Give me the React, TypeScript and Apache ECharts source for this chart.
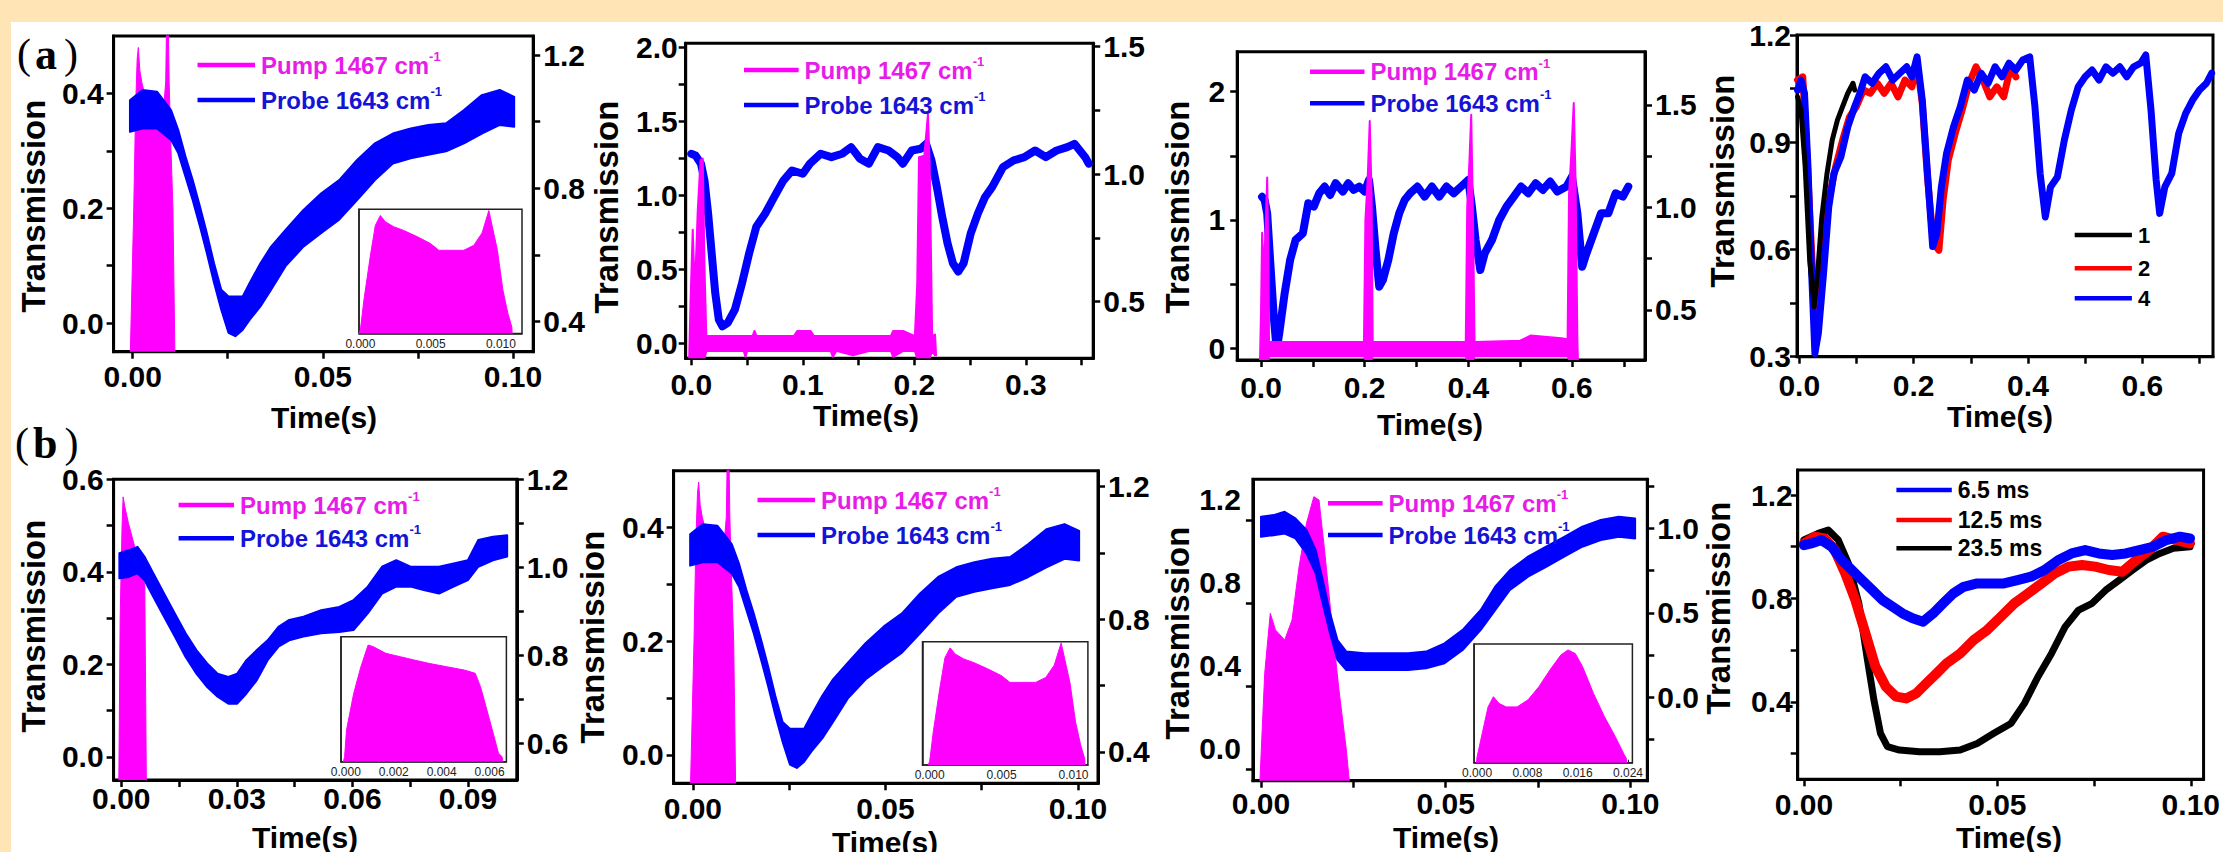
import React, { useEffect, useRef } from "react";
import * as echarts from "echarts";

const FONT = '"Liberation Sans", Arial, Helvetica, sans-serif';
const SERIF = '"Liberation Serif", "Times New Roman", serif';
const PINK = "#FF00FF";
const PINK_TEXT = "#E81CE8";
const BLUE = "#0000FF";
const BLUE_TEXT = "#1414D6";
const RED = "#FF0000";
const BLACK = "#000000";

// ---------------- DATA ----------------
// (a) panel 1 / (b) panel 2 : 0.1 s window, 10 ms pump
const p1PumpT = [-0.0006, 0.0003, 0.0008, 0.0012, 0.0015, 0.0019, 0.0024, 0.0031, 0.004, 0.005, 0.0056, 0.0073, 0.0081, 0.0087, 0.009, 0.0093, 0.0096, 0.0101, 0.0106, 0.0111];
const p1PumpV = [-0.05, 0.2, 0.38, 0.46, 0.48, 0.44, 0.42, 0.4, 0.38, 0.36, 0.35, 0.35, 0.37, 0.42, 0.56, 0.56, 0.42, 0.3, 0.2, -0.05];
const p1ProbeT = [-0.0007, 0.0026, 0.0064, 0.0101, 0.012, 0.0139, 0.0158, 0.0177, 0.0195, 0.0214, 0.0233, 0.0252, 0.027, 0.0289, 0.0308, 0.0336, 0.0364, 0.0402, 0.0449, 0.0496, 0.0543, 0.059, 0.0637, 0.0684, 0.0731, 0.0777, 0.0824, 0.0871, 0.0918, 0.0965, 0.1003];
const p1ProbeHi = [0.388, 0.406, 0.403, 0.371, 0.336, 0.29, 0.249, 0.203, 0.157, 0.104, 0.058, 0.046, 0.046, 0.046, 0.07, 0.104, 0.133, 0.162, 0.197, 0.226, 0.249, 0.284, 0.313, 0.33, 0.339, 0.345, 0.348, 0.371, 0.397, 0.406, 0.394];
const p1ProbeLo = [0.333, 0.339, 0.339, 0.319, 0.296, 0.255, 0.214, 0.168, 0.122, 0.07, 0.023, -0.017, -0.023, -0.012, 0.006, 0.029, 0.058, 0.099, 0.133, 0.157, 0.18, 0.214, 0.249, 0.278, 0.287, 0.293, 0.299, 0.313, 0.33, 0.345, 0.342];
const p1InsetT = [-0.0001, 0.0, 0.00025, 0.0007, 0.00106, 0.00142, 0.00177, 0.00237, 0.00308, 0.00403, 0.00498, 0.00558, 0.00736, 0.00807, 0.00866, 0.00914, 0.00975, 0.01014, 0.0105, 0.01078, 0.0108];
const p1InsetV = [0, 0.03, 0.27, 0.62, 0.87, 0.95, 0.9, 0.86, 0.83, 0.78, 0.725, 0.67, 0.67, 0.71, 0.81, 0.99, 0.67, 0.35, 0.16, 0.05, 0];

// (a) panel 2 : two pulses
const a2ProbeT = [0, 0.0038, 0.0087, 0.0119, 0.0151, 0.0183, 0.0215, 0.0247, 0.0279, 0.0327, 0.0391, 0.0455, 0.0519, 0.0583, 0.0663, 0.0744, 0.0824, 0.0904, 0.1, 0.1064, 0.116, 0.1256, 0.1353, 0.1433, 0.1513, 0.1593, 0.1673, 0.1769, 0.1849, 0.1897, 0.1977, 0.2058, 0.2106, 0.2154, 0.2202, 0.225, 0.2298, 0.2346, 0.2394, 0.2442, 0.2506, 0.257, 0.2635, 0.2699, 0.2795, 0.2891, 0.2987, 0.3083, 0.3179, 0.3276, 0.3372, 0.3436, 0.3532, 0.3564];
const a2ProbeV = [1.283, 1.272, 1.216, 1.1, 0.879, 0.61, 0.341, 0.161, 0.117, 0.139, 0.229, 0.408, 0.61, 0.79, 0.879, 0.991, 1.1, 1.17, 1.148, 1.216, 1.283, 1.26, 1.283, 1.328, 1.249, 1.216, 1.328, 1.305, 1.26, 1.216, 1.305, 1.317, 1.35, 1.238, 1.059, 0.857, 0.677, 0.543, 0.487, 0.543, 0.745, 0.879, 0.991, 1.059, 1.193, 1.238, 1.26, 1.305, 1.26, 1.305, 1.328, 1.35, 1.26, 1.216];
const a2PumpT = [-0.0019, -0.0006, 0.0013, 0.0032, 0.0058, 0.0083, 0.0103, 0.0119, 0.0135, 0.03, 0.047, 0.0487, 0.05, 0.055, 0.0567, 0.0585, 0.07, 0.092, 0.095, 0.107, 0.11, 0.125, 0.127, 0.13, 0.145, 0.16, 0.179, 0.181, 0.19, 0.2005, 0.2026, 0.2042, 0.209, 0.2122, 0.2138, 0.216, 0.2186, 0.2195];
const a2PumpLo = [-0.1, -0.1, -0.1, -0.1, -0.1, -0.1, -0.1, -0.1, -0.05, -0.05, -0.05, -0.09, -0.05, -0.05, -0.05, -0.05, -0.05, -0.05, -0.05, -0.05, -0.05, -0.05, -0.09, -0.05, -0.08, -0.05, -0.05, -0.09, -0.05, -0.05, -0.1, -0.1, -0.1, -0.1, -0.1, -0.05, -0.08, -0.08];
const a2PumpHi = [-0.1, 0.3, 0.77, 0.35, 0.9, 1.24, 1.25, 0.5, 0.05, 0.05, 0.05, 0.05, 0.05, 0.05, 0.085, 0.05, 0.05, 0.05, 0.085, 0.085, 0.05, 0.05, 0.05, 0.05, 0.05, 0.05, 0.05, 0.085, 0.085, 0.05, 0.4, 1.26, 1.27, 1.55, 1.2, 0.05, 0.06, -0.08];

// (a) panel 3 : four pulses
const a3ProbeT = [0.0021, 0.007, 0.0119, 0.0175, 0.0246, 0.0302, 0.0351, 0.0456, 0.0561, 0.0667, 0.0807, 0.0912, 0.1018, 0.1123, 0.1228, 0.1333, 0.1439, 0.1579, 0.1684, 0.1789, 0.1895, 0.2, 0.2084, 0.2141, 0.2211, 0.2281, 0.2351, 0.2456, 0.2561, 0.2667, 0.2772, 0.2877, 0.3018, 0.3158, 0.3298, 0.3439, 0.3579, 0.3719, 0.386, 0.4, 0.407, 0.4141, 0.4232, 0.4316, 0.4456, 0.4597, 0.4737, 0.4878, 0.5018, 0.5158, 0.5299, 0.5439, 0.5579, 0.5719, 0.5895, 0.6, 0.6105, 0.6197, 0.6281, 0.6421, 0.6561, 0.6702, 0.6842, 0.6983, 0.7088];
const a3ProbeV = [1.18, 1.156, 1.05, 0.688, 0.247, -0.013, 0.117, 0.429, 0.688, 0.844, 0.896, 1.13, 1.104, 1.208, 1.26, 1.195, 1.286, 1.221, 1.286, 1.234, 1.26, 1.221, 1.312, 1.104, 0.766, 0.481, 0.532, 0.688, 0.896, 1.052, 1.156, 1.208, 1.26, 1.182, 1.26, 1.182, 1.26, 1.208, 1.26, 1.312, 1.104, 0.844, 0.61, 0.74, 0.844, 1.0, 1.104, 1.182, 1.26, 1.208, 1.286, 1.234, 1.299, 1.221, 1.26, 1.338, 1.052, 0.636, 0.74, 0.896, 1.052, 1.052, 1.208, 1.182, 1.26];
const a3PumpT = [-0.002, 0.0, 0.0021, 0.005, 0.0085, 0.0119, 0.0145, 0.0154, 0.1, 0.1986, 0.2014, 0.2056, 0.2098, 0.2133, 0.2155, 0.3, 0.3951, 0.3979, 0.4021, 0.4056, 0.4091, 0.412, 0.5, 0.52, 0.58, 0.5916, 0.5944, 0.5986, 0.6035, 0.607, 0.6105, 0.6115];
const a3PumpLo = [-0.09, -0.09, -0.09, -0.09, -0.09, -0.09, -0.09, -0.06, -0.06, -0.06, -0.09, -0.09, -0.09, -0.09, -0.06, -0.06, -0.06, -0.09, -0.09, -0.09, -0.09, -0.06, -0.06, -0.06, -0.06, -0.06, -0.09, -0.09, -0.09, -0.09, -0.09, -0.09];
const a3PumpHi = [-0.09, 0.3, 0.9, 0.6, 0.9, 1.33, 0.6, 0.05, 0.05, 0.05, 1.0, 1.3, 1.77, 1.2, 0.05, 0.05, 0.05, 1.1, 1.45, 1.82, 1.0, 0.05, 0.06, 0.1, 0.08, 0.07, 1.2, 1.5, 1.91, 1.3, 0.06, -0.09];

// (a) panel 4 : number of pulses 1, 2, 4
const a4BlueT = [-0.003, 0.003, 0.0091, 0.0152, 0.0212, 0.0273, 0.0333, 0.0424, 0.0515, 0.0606, 0.0727, 0.0848, 0.097, 0.106, 0.1151, 0.1273, 0.1394, 0.1515, 0.1636, 0.1758, 0.1879, 0.197, 0.206, 0.2151, 0.2242, 0.2333, 0.2406, 0.2485, 0.2576, 0.2697, 0.2818, 0.2939, 0.306, 0.3182, 0.3303, 0.3424, 0.3545, 0.3667, 0.3788, 0.3909, 0.403, 0.4121, 0.4212, 0.4303, 0.4394, 0.4515, 0.4636, 0.4758, 0.4879, 0.5, 0.5121, 0.5242, 0.5364, 0.5485, 0.5606, 0.5727, 0.5848, 0.597, 0.606, 0.6152, 0.6242, 0.6303, 0.6394, 0.6515, 0.6636, 0.6758, 0.6879, 0.7, 0.7121, 0.7212];
const a4BlueV = [1.046, 1.074, 1.037, 0.831, 0.552, 0.309, 0.365, 0.533, 0.719, 0.813, 0.859, 0.943, 1.0, 1.037, 1.083, 1.065, 1.093, 1.111, 1.074, 1.093, 1.111, 1.083, 1.139, 1.018, 0.813, 0.608, 0.645, 0.775, 0.869, 0.943, 1.0, 1.074, 1.046, 1.093, 1.065, 1.111, 1.083, 1.121, 1.102, 1.13, 1.139, 1.0, 0.813, 0.691, 0.775, 0.803, 0.906, 0.99, 1.055, 1.083, 1.102, 1.074, 1.111, 1.093, 1.111, 1.083, 1.111, 1.121, 1.144, 0.99, 0.794, 0.701, 0.775, 0.813, 0.925, 0.981, 1.018, 1.046, 1.065, 1.093];
const a4RedT = [-0.003, 0.0061, 0.0121, 0.02, 0.0273, 0.0333, 0.0424, 0.0515, 0.0636, 0.0758, 0.0879, 0.1, 0.1121, 0.1242, 0.1364, 0.1485, 0.1606, 0.1727, 0.1848, 0.197, 0.206, 0.2151, 0.2242, 0.2345, 0.2442, 0.2515, 0.2606, 0.2727, 0.2848, 0.297, 0.3091, 0.3212, 0.3333, 0.3455, 0.3576, 0.3697, 0.3788];
const a4RedV = [1.074, 1.083, 0.906, 0.645, 0.402, 0.43, 0.589, 0.738, 0.831, 0.906, 0.971, 1.0, 1.046, 1.037, 1.065, 1.037, 1.065, 1.027, 1.074, 1.055, 1.121, 1.009, 0.803, 0.617, 0.598, 0.738, 0.85, 0.925, 0.99, 1.065, 1.111, 1.074, 1.027, 1.055, 1.027, 1.111, 1.083];
const a4BlackT = [-0.003, 0.003, 0.0103, 0.0182, 0.0261, 0.0321, 0.0394, 0.0485, 0.0576, 0.0667, 0.0758, 0.0848, 0.0939, 0.097];
const a4BlackV = [1.027, 0.99, 0.831, 0.57, 0.44, 0.533, 0.691, 0.813, 0.906, 0.962, 1.0, 1.037, 1.065, 1.046];

// (b) panel 1 : 6.5 ms pump
const b1PumpT = [-0.00064, -0.0003, 0.0002, 0.00047, 0.00093, 0.00186, 0.0037, 0.00557, 0.0061, 0.0065];
const b1PumpV = [-0.05, 0.3, 0.5, 0.562, 0.54, 0.505, 0.447, 0.39, 0.37, -0.05];
const b1ProbeT = [-0.0005, 0.0019, 0.0042, 0.006, 0.0083, 0.0111, 0.0139, 0.0167, 0.0195, 0.0223, 0.025, 0.0278, 0.0301, 0.0325, 0.0352, 0.038, 0.0408, 0.0436, 0.0473, 0.0519, 0.0566, 0.0603, 0.064, 0.0677, 0.0714, 0.0751, 0.0788, 0.0825, 0.0863, 0.09, 0.0927, 0.0965, 0.1002];
const b1ProbeHi = [0.44, 0.447, 0.454, 0.433, 0.397, 0.353, 0.31, 0.267, 0.231, 0.202, 0.18, 0.173, 0.18, 0.209, 0.231, 0.252, 0.281, 0.296, 0.303, 0.317, 0.324, 0.339, 0.368, 0.411, 0.425, 0.411, 0.411, 0.411, 0.418, 0.425, 0.469, 0.476, 0.479];
const b1ProbeLo = [0.386, 0.389, 0.397, 0.382, 0.346, 0.303, 0.26, 0.216, 0.18, 0.151, 0.13, 0.115, 0.115, 0.137, 0.166, 0.209, 0.238, 0.252, 0.26, 0.267, 0.27, 0.274, 0.31, 0.353, 0.368, 0.368, 0.36, 0.353, 0.368, 0.382, 0.411, 0.425, 0.433];
const b1InsetT = [-0.0001, -0.00005, 0.00003, 0.00033, 0.00063, 0.00093, 0.00115, 0.00167, 0.00227, 0.00286, 0.00346, 0.0042, 0.00495, 0.0054, 0.00562, 0.00585, 0.00615, 0.00637, 0.00652, 0.00655];
const b1InsetV = [0, 0.04, 0.253, 0.547, 0.76, 0.933, 0.92, 0.867, 0.84, 0.813, 0.787, 0.76, 0.733, 0.707, 0.6, 0.44, 0.227, 0.067, 0.04, 0];

// (b) panel 3 : 23.5 ms pump
const b3PumpT = [-0.0003, 0.001, 0.0025, 0.0039, 0.0064, 0.0084, 0.0103, 0.0123, 0.0143, 0.0157, 0.0172, 0.0192, 0.0211, 0.0231, 0.0239];
const b3PumpV = [-0.157, 0.362, 0.652, 0.572, 0.523, 0.62, 0.877, 1.087, 1.216, 1.2, 0.958, 0.604, 0.282, -0.008, -0.157];
const b3ProbeT = [0, 0.0034, 0.0064, 0.0093, 0.0123, 0.0148, 0.0167, 0.0187, 0.0207, 0.0231, 0.028, 0.0339, 0.0398, 0.0447, 0.0497, 0.0546, 0.0595, 0.0634, 0.0674, 0.0723, 0.0772, 0.0821, 0.087, 0.092, 0.0969, 0.1013];
const b3ProbeHi = [1.119, 1.127, 1.143, 1.111, 1.055, 0.958, 0.813, 0.652, 0.523, 0.467, 0.459, 0.459, 0.459, 0.467, 0.507, 0.572, 0.668, 0.781, 0.861, 0.926, 0.974, 1.022, 1.071, 1.103, 1.119, 1.111];
const b3ProbeLo = [1.022, 1.03, 1.038, 1.014, 0.942, 0.845, 0.7, 0.555, 0.427, 0.378, 0.378, 0.378, 0.378, 0.386, 0.411, 0.475, 0.572, 0.668, 0.765, 0.829, 0.877, 0.926, 0.974, 1.006, 1.022, 1.014];
const b3InsetT = [-0.0001, 0, 0.00058, 0.00174, 0.0026, 0.00347, 0.00463, 0.00636, 0.0081, 0.00983, 0.01157, 0.01331, 0.01446, 0.01561, 0.01677, 0.01851, 0.02024, 0.02197, 0.02342, 0.02371, 0.0238];
const b3InsetV = [0, 0.05, 0.19, 0.47, 0.556, 0.5, 0.47, 0.47, 0.53, 0.64, 0.78, 0.907, 0.95, 0.92, 0.81, 0.584, 0.39, 0.22, 0.065, 0.04, 0];

// (b) panel 4 : pulse widths
const b4BlueT = [0, 0.0019, 0.0045, 0.0072, 0.0098, 0.0124, 0.015, 0.0177, 0.0203, 0.0229, 0.0255, 0.0281, 0.0308, 0.0334, 0.036, 0.0386, 0.0413, 0.0448, 0.0483, 0.0517, 0.0552, 0.0587, 0.0622, 0.0657, 0.0692, 0.0727, 0.0762, 0.0797, 0.0832, 0.0867, 0.0902, 0.0937, 0.0972, 0.0998];
const b4BlueV = [1.006, 1.013, 1.026, 1.0, 0.948, 0.91, 0.871, 0.832, 0.794, 0.768, 0.742, 0.723, 0.71, 0.742, 0.781, 0.819, 0.845, 0.858, 0.858, 0.858, 0.871, 0.884, 0.91, 0.948, 0.974, 0.987, 0.974, 0.968, 0.974, 0.987, 1.0, 1.026, 1.039, 1.032];
const b4RedT = [0, 0.0028, 0.0054, 0.008, 0.0107, 0.0133, 0.0159, 0.0185, 0.0212, 0.0238, 0.0264, 0.029, 0.0316, 0.0343, 0.0369, 0.0404, 0.0439, 0.0474, 0.0509, 0.0544, 0.0579, 0.0614, 0.0649, 0.0684, 0.0719, 0.0753, 0.0788, 0.0823, 0.0858, 0.0893, 0.0928, 0.0963, 0.0998];
const b4RedV = [1.013, 1.039, 1.032, 0.987, 0.897, 0.794, 0.665, 0.536, 0.458, 0.42, 0.413, 0.432, 0.471, 0.51, 0.549, 0.587, 0.639, 0.678, 0.729, 0.781, 0.819, 0.858, 0.897, 0.923, 0.929, 0.923, 0.91, 0.903, 0.948, 0.987, 1.039, 1.026, 1.013];
const b4BlackT = [0, 0.0037, 0.0063, 0.0089, 0.0115, 0.0142, 0.0163, 0.0181, 0.0198, 0.0216, 0.0247, 0.0299, 0.0351, 0.0404, 0.0448, 0.0491, 0.0535, 0.057, 0.0605, 0.064, 0.0675, 0.071, 0.0745, 0.078, 0.0815, 0.085, 0.0885, 0.092, 0.0955, 0.0998];
const b4BlackV = [1.026, 1.052, 1.065, 1.026, 0.936, 0.781, 0.574, 0.407, 0.278, 0.226, 0.213, 0.207, 0.207, 0.213, 0.239, 0.278, 0.316, 0.394, 0.497, 0.587, 0.69, 0.755, 0.781, 0.832, 0.871, 0.91, 0.948, 0.974, 0.994, 1.0];

// legend / label texts
const pumpLabel = "Pump 1467 cm";
const probeLabel = "Probe 1643 cm";
const pulseCountLabels = ["1", "2", "4"];
const pulseWidthLabels = ["6.5 ms", "12.5 ms", "23.5 ms"];

// ---------------- BUILDERS ----------------
type AxisSpec = { min: number; max: number; labels: number[]; ticks: number[]; dec: number; margin?: number };
type Box = [number, number, number, number];

const zip = (t: number[], v: number[]) => t.map((x, i) => [x, v[i]]);
const steps = (a: number, b: number, s: number) => {
  const out: number[] = [];
  const n = Math.round((b - a) / s);
  for (let i = 0; i <= n; i++) out.push(+(a + i * s).toFixed(6));
  return out;
};

function buildOption() {
  const grid: any[] = [];
  const xAxis: any[] = [];
  const yAxis: any[] = [];
  const series: any[] = [];
  const graphic: any[] = [];

  const mainAxis = (s: AxisSpec) => ({
    type: "value",
    min: s.min,
    max: s.max,
    axisLine: { show: true, onZero: false, lineStyle: { color: "#000", width: 3 } },
    axisTick: { show: true, inside: false, length: 7, lineStyle: { color: "#000", width: 2.5 }, customValues: s.ticks },
    axisLabel: {
      show: true,
      customValues: s.labels,
      formatter: (v: number) => v.toFixed(s.dec),
      fontSize: 30,
      fontWeight: "bold",
      fontFamily: FONT,
      color: "#000",
      margin: s.margin ?? 10,
    },
    splitLine: { show: false },
    minorTick: { show: false },
  });

  function addPanel(box: Box, xs: AxisSpec, yl: AxisSpec, yr?: AxisSpec) {
    const gi = grid.length;
    grid.push({
      left: box[0], top: box[1], width: box[2] - box[0], height: box[3] - box[1],
      show: true, borderColor: "#000", borderWidth: 3, backgroundColor: "rgba(0,0,0,0)", containLabel: false,
    });
    const xi = xAxis.length;
    xAxis.push({ gridIndex: gi, position: "bottom", ...mainAxis(xs) });
    const yi = yAxis.length;
    yAxis.push({ gridIndex: gi, position: "left", ...mainAxis(yl) });
    if (yr) yAxis.push({ gridIndex: gi, position: "right", ...mainAxis(yr) });
    return { xi, yi };
  }

  function addInset(box: Box, xs: AxisSpec) {
    const gi = grid.length;
    grid.push({
      left: box[0], top: box[1], width: box[2] - box[0], height: box[3] - box[1],
      show: true, borderColor: "#222", borderWidth: 1.5, backgroundColor: "#fff", containLabel: false, z: 5,
    });
    const xi = xAxis.length;
    xAxis.push({
      gridIndex: gi, type: "value", min: xs.min, max: xs.max, z: 5,
      axisLine: { show: true, onZero: false, lineStyle: { color: "#222", width: 1.5 } },
      axisTick: { show: true, inside: true, length: 3, lineStyle: { color: "#222", width: 1 }, customValues: xs.ticks },
      axisLabel: { show: true, customValues: xs.labels, formatter: (v: number) => v.toFixed(xs.dec), fontSize: 12, fontFamily: FONT, color: "#222", margin: 4 },
      splitLine: { show: false },
    });
    const yi = yAxis.length;
    yAxis.push({
      gridIndex: gi, type: "value", min: 0, max: 1, z: 5,
      axisLine: { show: true, onZero: false, lineStyle: { color: "#222", width: 1.5 } },
      axisTick: { show: false }, axisLabel: { show: false }, splitLine: { show: false },
    });
    return { xi, yi };
  }

  const lineS = (xi: number, yi: number, T: number[], V: number[], color: string, width: number, z = 3) => ({
    type: "line", xAxisIndex: xi, yAxisIndex: yi, data: zip(T, V), symbol: "none", showSymbol: false,
    lineStyle: { color, width, join: "round", cap: "round" }, itemStyle: { color }, clip: true, silent: true, z,
  });
  const areaS = (xi: number, yi: number, T: number[], V: number[], color: string, z = 2) => ({
    ...lineS(xi, yi, T, V, color, 1, z),
    areaStyle: { color, opacity: 1, origin: "start" },
  });
  const bandS = (xi: number, yi: number, T: number[], Lo: number[], Hi: number[], color: string, z = 3) => ({
    type: "custom", xAxisIndex: xi, yAxisIndex: yi, silent: true, clip: true, z,
    data: [[T[0], Lo[0]]],
    renderItem: (_p: any, api: any) => {
      const pts: number[][] = [];
      for (let i = 0; i < T.length; i++) pts.push(api.coord([T[i], Hi[i]]));
      for (let i = T.length - 1; i >= 0; i--) pts.push(api.coord([T[i], Lo[i]]));
      return { type: "polygon", shape: { points: pts }, style: { fill: color, stroke: color, lineWidth: 2, lineJoin: "round" } };
    },
  });

  const yTitle = (x: number, y: number) =>
    graphic.push({
      type: "text", x, y, rotation: Math.PI / 2, z: 40,
      style: { text: "Transmission", fontSize: 33, fontWeight: "bold", fontFamily: FONT, fill: "#000", align: "center", verticalAlign: "middle" },
    });
  const xTitle = (x: number, y: number) =>
    graphic.push({
      type: "text", x, y, z: 40,
      style: { text: "Time(s)", fontSize: 30, fontWeight: "bold", fontFamily: FONT, fill: "#000", align: "center", verticalAlign: "middle" },
    });
  const legendRow = (x1: number, x2: number, y: number, color: string, textColor: string, label: string, sup: string | null, fs: number) => {
    graphic.push({ type: "line", z: 40, shape: { x1, y1: y, x2, y2: y }, style: { stroke: color, lineWidth: 4.5 } });
    graphic.push({
      type: "text", x: x2 + 6, y, z: 40,
      style: {
        text: sup ? `{m|${label}}{s|${sup}}` : label,
        fontSize: fs, fontWeight: "bold", fontFamily: FONT, fill: textColor, align: "left", verticalAlign: "middle",
        rich: {
          m: { fontSize: fs, fontWeight: "bold", fontFamily: FONT, fill: textColor, color: textColor, lineHeight: fs + 6, verticalAlign: "middle" },
          s: { fontSize: 13, fontWeight: "bold", fontFamily: FONT, fill: textColor, color: textColor, verticalAlign: "top", lineHeight: 13 },
        },
      },
    });
  };
  const pumpProbeLegend = (x1: number, x2: number, y1: number, y2: number) => {
    legendRow(x1, x2, y1, PINK, PINK_TEXT, pumpLabel, "-1", 24);
    legendRow(x1, x2, y2, BLUE, BLUE_TEXT, probeLabel, "-1", 24);
  };
  const panelLabel = (x: number, y: number, letter: string) =>
    graphic.push({
      type: "text", x, y, z: 40,
      style: {
        text: `{pl|(}{l|${letter}}{pr|)}`, fontSize: 42, fontWeight: "bold", fontFamily: SERIF, fill: "#000", align: "left", verticalAlign: "middle",
        rich: {
          pl: { fontSize: 42, fontFamily: SERIF, fill: "#000", color: "#000", padding: [0, 4, 0, 0], lineHeight: 38 },
          l: { fontSize: 44, fontWeight: "bold", fontFamily: SERIF, fill: "#000", color: "#000", lineHeight: 38 },
          pr: { fontSize: 42, fontFamily: SERIF, fill: "#000", color: "#000", padding: [0, 0, 0, 7], lineHeight: 38 },
        },
      },
    });

  // ---------- (a) panel 1 ----------
  {
    const { xi, yi } = addPanel(
      [113.6, 36, 533.2, 351.7],
      { min: -0.005, max: 0.1053, labels: [0, 0.05, 0.1], ticks: steps(0, 0.1, 0.025), dec: 2, margin: 10 },
      { min: -0.05, max: 0.5, labels: [0, 0.2, 0.4], ticks: steps(0, 0.4, 0.1), dec: 1, margin: 10 },
      { min: 0.31, max: 1.257, labels: [0.4, 0.8, 1.2], ticks: steps(0.4, 1.2, 0.2), dec: 1, margin: 10 }
    );
    series.push(areaS(xi, yi, p1PumpT, p1PumpV, PINK, 2));
    series.push(bandS(xi, yi, p1ProbeT, p1ProbeLo, p1ProbeHi, BLUE, 3));
    const ins = addInset([359, 209.3, 522, 333.5], { min: -0.0001, max: 0.0115, labels: [0, 0.005, 0.01], ticks: steps(0, 0.01, 0.0025), dec: 3 });
    series.push({ ...areaS(ins.xi, ins.yi, p1InsetT, p1InsetV, PINK, 6) });
    yTitle(33, 206);
    xTitle(324, 417);
    pumpProbeLegend(197.5, 255, 65, 100);
    panelLabel(17, 54, "a");
  }
  // ---------- (a) panel 2 ----------
  {
    const { xi, yi } = addPanel(
      [685.7, 43.3, 1093.2, 358.3],
      { min: -0.005, max: 0.3604, labels: [0, 0.1, 0.2, 0.3], ticks: steps(0, 0.35, 0.05), dec: 1, margin: 11 },
      { min: -0.1, max: 2.03, labels: [0, 0.5, 1, 1.5, 2], ticks: steps(0, 2, 0.25), dec: 1, margin: 8 },
      { min: 0.278, max: 1.513, labels: [0.5, 1, 1.5], ticks: steps(0.5, 1.5, 0.25), dec: 1, margin: 10 }
    );
    series.push(lineS(xi, yi, a2ProbeT, a2ProbeV, BLUE, 8, 2));
    series.push(bandS(xi, yi, a2PumpT, a2PumpLo, a2PumpHi, PINK, 3));
    yTitle(606, 207);
    xTitle(866, 415);
    pumpProbeLegend(744, 798.6, 70, 105);
  }
  // ---------- (a) panel 3 ----------
  {
    const { xi, yi } = addPanel(
      [1237.2, 51.7, 1645, 360],
      { min: -0.046, max: 0.741, labels: [0, 0.2, 0.4, 0.6], ticks: steps(0, 0.7, 0.1), dec: 1, margin: 12 },
      { min: -0.09, max: 2.31, labels: [0, 1, 2], ticks: steps(0, 2, 0.5), dec: 0, margin: 12 },
      { min: 0.256, max: 1.76, labels: [0.5, 1, 1.5], ticks: steps(0.5, 1.5, 0.25), dec: 1, margin: 10 }
    );
    series.push(lineS(xi, yi, a3ProbeT, a3ProbeV, BLUE, 8, 2));
    series.push(bandS(xi, yi, a3PumpT, a3PumpLo, a3PumpHi, PINK, 3));
    yTitle(1177, 207);
    xTitle(1430, 424);
    pumpProbeLegend(1310, 1364.5, 71.7, 103.3);
  }
  // ---------- (a) panel 4 ----------
  {
    const { xi, yi } = addPanel(
      [1797, 35, 2213, 356.7],
      { min: -0.004, max: 0.7236, labels: [0, 0.2, 0.4, 0.6], ticks: steps(0, 0.7, 0.1), dec: 1, margin: 14 },
      { min: 0.3, max: 1.2, labels: [0.3, 0.6, 0.9, 1.2], ticks: steps(0.3, 1.2, 0.15), dec: 1, margin: 6 }
    );
    series.push(lineS(xi, yi, a4RedT, a4RedV, RED, 7, 2));
    series.push(lineS(xi, yi, a4BlueT, a4BlueV, BLUE, 7, 3));
    series.push(lineS(xi, yi, a4BlackT, a4BlackV, BLACK, 5, 4));
    yTitle(1722, 181);
    xTitle(2000, 416);
    const cols = [BLACK, RED, BLUE];
    const ys = [235, 268.3, 298.3];
    pulseCountLabels.forEach((l, i) => legendRow(2074.7, 2131.9, ys[i], cols[i], "#000", l, null, 22));
  }
  // ---------- (b) panel 1 ----------
  {
    const { xi, yi } = addPanel(
      [113.6, 479.3, 516.8, 780],
      { min: -0.002, max: 0.1027, labels: [0, 0.03, 0.06, 0.09], ticks: steps(0, 0.09, 0.015), dec: 2, margin: 3 },
      { min: -0.05, max: 0.6, labels: [0, 0.2, 0.4, 0.6], ticks: steps(0, 0.6, 0.1), dec: 1, margin: 10 },
      { min: 0.517, max: 1.2, labels: [0.6, 0.8, 1.0, 1.2], ticks: steps(0.6, 1.2, 0.1), dec: 1, margin: 10 }
    );
    series.push(areaS(xi, yi, b1PumpT, b1PumpV, PINK, 2));
    series.push(bandS(xi, yi, b1ProbeT, b1ProbeLo, b1ProbeHi, BLUE, 3));
    const ins = addInset([341, 636.7, 506.4, 761.7], { min: -0.0002, max: 0.0067, labels: [0, 0.002, 0.004, 0.006], ticks: steps(0, 0.006, 0.001), dec: 3 });
    series.push(areaS(ins.xi, ins.yi, b1InsetT, b1InsetV, PINK, 6));
    yTitle(33, 626);
    xTitle(305, 837);
    pumpProbeLegend(178.6, 234, 505, 538.3);
    panelLabel(15, 443, "b");
  }
  // ---------- (b) panel 2 ----------
  {
    const { xi, yi } = addPanel(
      [673.6, 470.7, 1098, 783.3],
      { min: -0.005, max: 0.1052, labels: [0, 0.05, 0.1], ticks: steps(0, 0.1, 0.025), dec: 2, margin: 10 },
      { min: -0.05, max: 0.5, labels: [0, 0.2, 0.4], ticks: steps(0, 0.4, 0.1), dec: 1, margin: 10 },
      { min: 0.305, max: 1.248, labels: [0.4, 0.8, 1.2], ticks: steps(0.4, 1.2, 0.2), dec: 1, margin: 10 }
    );
    series.push(areaS(xi, yi, p1PumpT, p1PumpV, PINK, 2));
    series.push(bandS(xi, yi, p1ProbeT, p1ProbeLo, p1ProbeHi, BLUE, 3));
    const ins = addInset([922.5, 641.7, 1087.9, 765], { min: -0.0005, max: 0.011, labels: [0, 0.005, 0.01], ticks: steps(0, 0.01, 0.0025), dec: 3 });
    series.push(areaS(ins.xi, ins.yi, p1InsetT, p1InsetV, PINK, 6));
    yTitle(592, 637);
    xTitle(885, 842);
    pumpProbeLegend(757.5, 815, 500, 535);
  }
  // ---------- (b) panel 3 ----------
  {
    const { xi, yi } = addPanel(
      [1252.9, 479.3, 1647.3, 780.7],
      { min: -0.0022, max: 0.1046, labels: [0, 0.05, 0.1], ticks: steps(0, 0.1, 0.025), dec: 2, margin: 8 },
      { min: -0.157, max: 1.3, labels: [0, 0.4, 0.8, 1.2], ticks: [-0.1, 0.3, 0.7, 1.1], dec: 1, margin: 12 },
      { min: -0.494, max: 1.29, labels: [-0.5, 0, 0.5, 1.0], ticks: steps(-0.5, 1.25, 0.25), dec: 1, margin: 10 }
    );
    series.push(areaS(xi, yi, b3PumpT, b3PumpV, PINK, 2));
    series.push(bandS(xi, yi, b3ProbeT, b3ProbeLo, b3ProbeHi, BLUE, 3));
    const ins = addInset([1474.2, 644, 1632.4, 762.7], { min: -0.00046, max: 0.0247, labels: [0, 0.008, 0.016, 0.024], ticks: steps(0, 0.024, 0.004), dec: 3 });
    series.push(areaS(ins.xi, ins.yi, b3InsetT, b3InsetV, PINK, 6));
    yTitle(1177, 633);
    xTitle(1446, 837);
    pumpProbeLegend(1328, 1382.6, 503.3, 535);
  }
  // ---------- (b) panel 4 ----------
  {
    const { xi, yi } = addPanel(
      [1797.7, 470, 2211.5, 779.3],
      { min: -0.0016, max: 0.1033, labels: [0, 0.05, 0.1], ticks: steps(0, 0.1, 0.025), dec: 2, margin: 10 },
      { min: 0.1, max: 1.297, labels: [0.4, 0.8, 1.2], ticks: steps(0.2, 1.2, 0.2), dec: 1, margin: 5 }
    );
    series.push(lineS(xi, yi, b4BlackT, b4BlackV, BLACK, 7, 2));
    series.push(lineS(xi, yi, b4RedT, b4RedV, RED, 10, 3));
    series.push(lineS(xi, yi, b4BlueT, b4BlueV, BLUE, 10, 4));
    yTitle(1718, 608);
    xTitle(2009, 837);
    const cols = [BLUE, RED, BLACK];
    const ys = [490, 520, 548.3];
    pulseWidthLabels.forEach((l, i) => legendRow(1896.4, 1951.8, ys[i], cols[i], "#000", l, null, 23));
  }

  return {
    animation: false,
    backgroundColor: "transparent",
    grid,
    xAxis,
    yAxis,
    series,
    graphic: { elements: graphic },
  };
}

export default function App() {
  const ref = useRef<HTMLDivElement>(null);
  useEffect(() => {
    if (!ref.current) return;
    const chart = echarts.init(ref.current, null, { renderer: "svg" });
    chart.setOption(buildOption() as any);
    return () => chart.dispose();
  }, []);
  return (
    <div style={{ position: "fixed", left: 0, top: 0, width: 2223, height: 852, background: "#FFE4B5", overflow: "hidden" }}>
      <div style={{ position: "absolute", left: 11, top: 22, right: 0, bottom: 0, background: "#ffffff" }} />
      <div ref={ref} style={{ position: "absolute", left: 0, top: 0, width: 2223, height: 852 }} />
    </div>
  );
}
